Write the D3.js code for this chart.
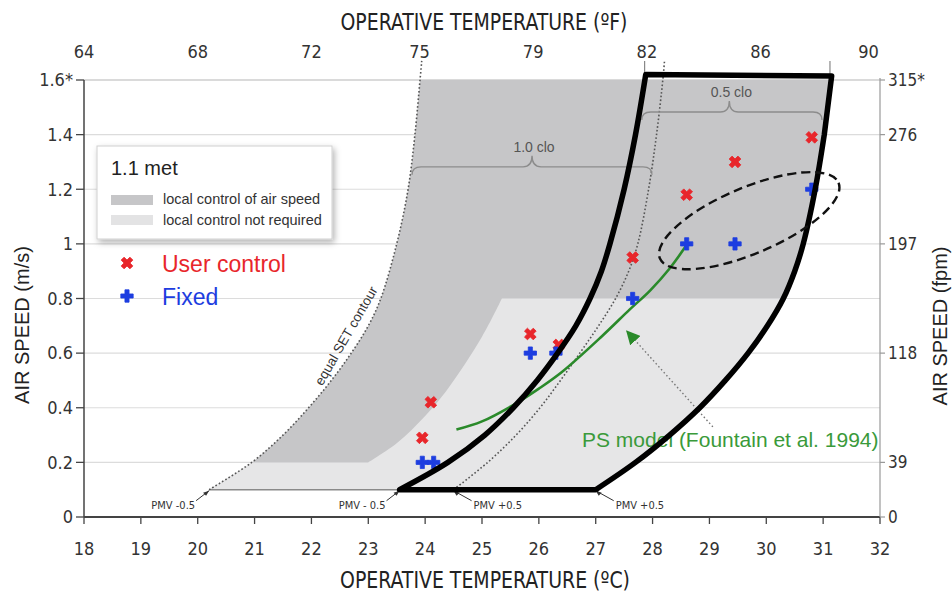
<!DOCTYPE html>
<html>
<head>
  <title>Elevated air speed comfort zone</title>
  <style>
    body { margin: 0; background: #fff; }
    svg { display: block; }
  </style>
</head>
<body>
<div id="chart"></div>
<script src="https://cdn.jsdelivr.net/npm/d3@7/dist/d3.min.js"></script>
<script>
// ---- data ----
var bottomTicks = [18, 19, 20, 21, 22, 23, 24, 25, 26, 27, 28, 29, 30, 31, 32];
var topTicksF = [64, 68, 72, 75, 79, 82, 86, 90];
var topTicksAtC = [18, 20, 22, 23.9, 25.9, 27.9, 29.9, 31.8];   // where the °F labels sit on the °C axis
var leftTicks = [0, 0.2, 0.4, 0.6, 0.8, 1, 1.2, 1.4, 1.6];
var leftLabels = ["0", "0.2", "0.4", "0.6", "0.8", "1", "1.2", "1.4", "1.6*"];
var rightLabels = ["0", "39", "118", "197", "276", "315*"];
var rightTicksAt = [0, 0.2, 0.6, 1.0, 1.4, 1.6];

// boundary curves [temperature °C, air speed m/s]
var setContour = [[20.2, 0.1], [20.95, 0.2], [21.5, 0.3], [21.95, 0.4], [22.35, 0.5], [22.7, 0.6],
                  [23.0, 0.7], [23.22, 0.8], [23.5, 1.0], [23.7, 1.2], [23.82, 1.4], [23.91, 1.6], [23.94, 1.67]];
var pmvPlus10clo = [[24.5, 0.1], [25.1, 0.2], [25.6, 0.3], [26.02, 0.4], [26.38, 0.5], [26.72, 0.6],
                    [27.05, 0.7], [27.35, 0.8], [27.58, 0.9], [27.74, 1.0], [27.93, 1.2], [28.07, 1.4],
                    [28.18, 1.6], [28.21, 1.67]];
var zone05Left = [[23.55, 0.1], [24.4, 0.2], [25.05, 0.3], [25.55, 0.4], [25.97, 0.5], [26.33, 0.6],
                  [26.65, 0.7], [26.9, 0.8], [27.1, 0.9], [27.25, 1.0], [27.5, 1.2], [27.7, 1.4], [27.88, 1.62]];
var zone05Right = [[27.0, 0.1], [27.7, 0.2], [28.3, 0.3], [28.83, 0.4], [29.28, 0.5], [29.68, 0.6],
                   [30.02, 0.7], [30.3, 0.8], [30.5, 0.9], [30.65, 1.0], [30.86, 1.2], [31.02, 1.4], [31.14, 1.6]];
var lightLeft = [[23.0, 0.2], [23.5, 0.27], [24.0, 0.37], [24.4, 0.47], [25.0, 0.66], [25.35, 0.8]];
var psModel = [[24.55, 0.32], [25.0, 0.35], [25.55, 0.41], [26.0, 0.47], [26.4, 0.53], [27.1, 0.66],
               [27.6, 0.76], [27.96, 0.83], [28.3, 0.91], [28.58, 0.99]];

// measurements
var userControl = [[23.95, 0.29], [24.1, 0.42], [25.85, 0.67], [26.35, 0.63], [27.65, 0.95],
                   [28.6, 1.18], [29.45, 1.30], [30.8, 1.39]];
var fixedSpeed = [[23.95, 0.20], [24.15, 0.20], [25.85, 0.60], [26.3, 0.60], [27.65, 0.80],
                  [28.6, 1.0], [29.45, 1.0], [30.8, 1.2]];

var pmvLabels = [["PMV -0.5", 20.2], ["PMV - 0.5", 23.55], ["PMV +0.5", 24.5], ["PMV +0.5", 27.0]];
var cloBraces = [["1.0 clo", 23.77, 27.99, 25.88, 1.282], ["0.5 clo", 27.81, 30.98, 29.35, 1.483]];

// ---- layout ----
var w = 952, h = 592;
var narrow = '"Liberation Sans Narrow", "DejaVu Sans Condensed", sans-serif';
var sans = '"Liberation Sans", Arial, sans-serif';

var x = d3.scaleLinear().domain([18, 32]).range([84, 880]);
var y = d3.scaleLinear().domain([0, 1.6]).range([517, 80]);

var svg = d3.select("#chart").append("svg")
  .attr("width", w).attr("height", h);

var defs = svg.append("defs");
var f = defs.append("filter").attr("id", "shadow")
  .attr("x", "-10%").attr("y", "-10%").attr("width", "130%").attr("height", "140%");
f.append("feDropShadow").attr("dx", 2).attr("dy", 3).attr("stdDeviation", 3)
  .attr("flood-color", "#000").attr("flood-opacity", 0.3);
defs.append("marker").attr("id", "greenhead")
  .attr("viewBox", "0 0 10 10").attr("refX", 9).attr("refY", 5)
  .attr("markerWidth", 14).attr("markerHeight", 14).attr("markerUnits", "userSpaceOnUse")
  .attr("orient", "auto")
  .append("path").attr("d", "M0,0L10,5L0,10Z").attr("fill", "#2a8a2a");

var smooth = d3.line().x(function (d) { return x(d[0]); }).y(function (d) { return y(d[1]); })
  .curve(d3.curveCatmullRom.alpha(0.5));
var straight = d3.line().x(function (d) { return x(d[0]); }).y(function (d) { return y(d[1]); });
function pt(t, v) { return "L" + x(t) + "," + y(v); }
function join() {
  var s = "";
  for (var i = 0; i < arguments.length; i++) {
    s += i === 0 ? arguments[i] : arguments[i].replace(/^M/, "L");
  }
  return s + "Z";
}

// grid
svg.append("g").selectAll("line")
  .data(leftTicks.slice(1))
  .enter().append("line")
  .attr("x1", x(18)).attr("x2", x(32))
  .attr("y1", function (d) { return y(d); }).attr("y2", function (d) { return y(d); })
  .attr("stroke", function (d) { return d === 1.6 ? "#b5b5b5" : "#dcdcdc"; })
  .attr("stroke-width", 1.2);

// dark zone: local control of air speed
var setUpTo16 = setContour.filter(function (d) { return d[1] <= 1.6; });
svg.append("path")
  .attr("d", join(smooth(setUpTo16), pt(31.14, 1.6), smooth(zone05Right.slice().reverse())))
  .attr("fill", "#c6c6c8");

// light zone: local control not required
var rightLow = zone05Right.filter(function (d) { return d[1] <= 0.8; }).reverse();
svg.append("path")
  .attr("d", join(straight([setContour[0], setContour[1]]), smooth(lightLeft), smooth(rightLow)))
  .attr("fill", "#e6e6e7");

// bottom edge at 0.1 m/s
svg.append("line")
  .attr("x1", x(20.2)).attr("x2", x(27.0)).attr("y1", y(0.1)).attr("y2", y(0.1))
  .attr("stroke", "#8a8a8a").attr("stroke-width", 1.6);

// dotted PMV lines
[setContour, pmvPlus10clo].forEach(function (c) {
  svg.append("path").attr("d", smooth(c))
    .attr("fill", "none").attr("stroke", "#555").attr("stroke-width", 1.6)
    .attr("stroke-dasharray", "1.6,2.2");
});
// short solid extensions of the 0.5 clo edges above the chart
[27.86, 31.12].forEach(function (t) {
  svg.append("line").attr("x1", x(t)).attr("x2", x(t)).attr("y1", y(1.6)).attr("y2", y(1.67))
    .attr("stroke", "#888").attr("stroke-width", 1.2);
});

// clo braces
cloBraces.forEach(function (b) {
  var x0 = x(b[1]), x1 = x(b[2]), xm = x(b[3]), yb = y(b[4]), r = 9, drop = 8, tip = 11;
  var d = "M" + x0 + "," + (yb + drop) + "Q" + x0 + "," + yb + " " + (x0 + r) + "," + yb +
    "L" + (xm - r) + "," + yb + "Q" + xm + "," + yb + " " + xm + "," + (yb - tip) +
    "Q" + xm + "," + yb + " " + (xm + r) + "," + yb +
    "L" + (x1 - r) + "," + yb + "Q" + x1 + "," + yb + " " + x1 + "," + (yb + drop);
  svg.append("path").attr("d", d).attr("fill", "none")
    .attr("stroke", "#8c8c8c").attr("stroke-width", 1.4);
  svg.append("text").attr("x", xm + 2).attr("y", yb - tip - 4)
    .attr("text-anchor", "middle").attr("font-family", sans).attr("font-size", "14px")
    .attr("fill", "#555").text(b[0]);
});

// equal SET contour label
svg.append("text")
  .attr("transform", "translate(" + x(22.72) + "," + y(0.65) + ") rotate(-60)")
  .attr("text-anchor", "middle").attr("dy", "-0.2em")
  .attr("font-family", sans).attr("font-size", "13.5px")
  .attr("fill", "#333").text("equal SET contour");

// PMV labels with arrows
pmvLabels.forEach(function (p, i) {
  var px = x(p[1]), py = y(0.1);
  var left = i < 2;
  var tx = left ? px - 14 : px + 20;
  svg.append("line")
    .attr("x1", left ? px - 13 : px + 18).attr("y1", py + 11)
    .attr("x2", px).attr("y2", py + 1)
    .attr("stroke", "#333").attr("stroke-width", 1);
  svg.append("path")
    .attr("d", left ? "M" + px + "," + (py + 1) + "l-6,2l3,3z" : "M" + px + "," + (py + 1) + "l6,2l-3,3z")
    .attr("fill", "#333");
  svg.append("text").attr("x", tx).attr("y", py + 19)
    .attr("text-anchor", left ? "end" : "start")
    .attr("font-family", narrow).attr("font-size", "11px").attr("fill", "#333").text(p[0]);
});

// PS model curve
svg.append("path").attr("d", smooth(psModel))
  .attr("fill", "none").attr("stroke", "#2a8a2a").attr("stroke-width", 2.6);

// PS model pointer
svg.append("line")
  .attr("x1", x(29.06)).attr("y1", y(0.33)).attr("x2", x(27.55)).attr("y2", y(0.68))
  .attr("stroke", "#777").attr("stroke-width", 1.4).attr("stroke-dasharray", "1.5,2.5")
  .attr("marker-end", "url(#greenhead)");
svg.append("text").attr("x", 582).attr("y", 447)
  .attr("font-family", sans).attr("font-size", "21px").attr("fill", "#3a9a3a")
  .text("PS model (Fountain et al. 1994)");

// markers
var xSym = d3.symbol().type(d3.symbolCross).size(85);
function plotPoints(data, color, rot) {
  svg.append("g").selectAll("path")
    .data(data).enter().append("path")
    .attr("d", xSym)
    .attr("transform", function (d) {
      return "translate(" + x(d[0]) + "," + y(d[1]) + ") rotate(" + rot + ")";
    })
    .attr("fill", color).attr("stroke", color).attr("stroke-width", 0.8).attr("stroke-linejoin", "round");
}
plotPoints(userControl, "#e8262b", 45);
plotPoints(fixedSpeed, "#1d3de0", 0);

// bold outline of the 0.5 clo zone
svg.append("path")
  .attr("d", join(smooth(zone05Left), pt(31.15, 1.615),
                  smooth(zone05Right.slice(0, -1).reverse())))
  .attr("fill", "none").attr("stroke", "#000").attr("stroke-width", 5.5)
  .attr("stroke-linejoin", "round");

// dashed ellipse
svg.append("ellipse")
  .attr("transform", "translate(" + x(29.7) + "," + y(1.085) + ") rotate(-23)")
  .attr("rx", 97).attr("ry", 33)
  .attr("fill", "none").attr("stroke", "#111").attr("stroke-width", 2.4)
  .attr("stroke-dasharray", "9,5");

// axes
svg.append("line").attr("x1", x(18)).attr("x2", x(32)).attr("y1", y(0)).attr("y2", y(0))
  .attr("stroke", "#444").attr("stroke-width", 2.2);
svg.append("line").attr("x1", x(18)).attr("x2", x(18)).attr("y1", y(0)).attr("y2", y(1.6))
  .attr("stroke", "#444").attr("stroke-width", 1.5);
svg.append("line").attr("x1", x(32)).attr("x2", x(32)).attr("y1", y(0)).attr("y2", y(1.6) - 2)
  .attr("stroke", "#999").attr("stroke-width", 1.2);

svg.append("g").selectAll("line").data(bottomTicks).enter().append("line")
  .attr("x1", function (d) { return x(d); }).attr("x2", function (d) { return x(d); })
  .attr("y1", y(0)).attr("y2", y(0) + 7).attr("stroke", "#444").attr("stroke-width", 1.3);
svg.append("g").selectAll("text").data(bottomTicks).enter().append("text")
  .attr("x", function (d) { return x(d); }).attr("y", 555)
  .attr("text-anchor", "middle").attr("font-family", narrow).attr("font-size", "18px")
  .attr("fill", "#333").text(function (d) { return d; });

svg.append("g").selectAll("line").data(leftTicks).enter().append("line")
  .attr("x1", x(18) - 8).attr("x2", x(18))
  .attr("y1", function (d) { return y(d); }).attr("y2", function (d) { return y(d); })
  .attr("stroke", "#444").attr("stroke-width", 1.3);
svg.append("g").selectAll("text").data(leftTicks).enter().append("text")
  .attr("x", 73).attr("y", function (d) { return y(d); }).attr("dy", "0.35em")
  .attr("text-anchor", "end").attr("font-family", narrow).attr("font-size", "18px")
  .attr("fill", "#333").text(function (d, i) { return leftLabels[i]; });

svg.append("g").selectAll("line").data(rightTicksAt).enter().append("line")
  .attr("x1", x(32)).attr("x2", x(32) + 5)
  .attr("y1", function (d) { return y(d); }).attr("y2", function (d) { return y(d); })
  .attr("stroke", "#999").attr("stroke-width", 1.2);
svg.append("g").selectAll("text").data(rightTicksAt).enter().append("text")
  .attr("x", 888).attr("y", function (d) { return y(d); }).attr("dy", "0.35em")
  .attr("font-family", narrow).attr("font-size", "17px")
  .attr("fill", "#333").text(function (d, i) { return rightLabels[i]; });

svg.append("g").selectAll("text").data(topTicksF).enter().append("text")
  .attr("x", function (d, i) { return x(topTicksAtC[i]); }).attr("y", 58)
  .attr("text-anchor", "middle").attr("font-family", narrow).attr("font-size", "18px")
  .attr("fill", "#333").text(function (d) { return d; });

// titles
svg.append("text").attr("x", 484).attr("y", 30).attr("text-anchor", "middle")
  .attr("font-family", narrow).attr("font-size", "23px").attr("fill", "#222")
  .attr("textLength", 287).attr("lengthAdjust", "spacingAndGlyphs")
  .text("OPERATIVE TEMPERATURE (ºF)");
svg.append("text").attr("x", 485).attr("y", 588).attr("text-anchor", "middle")
  .attr("font-family", narrow).attr("font-size", "23px").attr("fill", "#222")
  .attr("textLength", 290).attr("lengthAdjust", "spacingAndGlyphs")
  .text("OPERATIVE TEMPERATURE (ºC)");
svg.append("text").attr("transform", "translate(29,325) rotate(-90)").attr("text-anchor", "middle")
  .attr("font-family", sans).attr("font-size", "20px").attr("fill", "#222")
  .text("AIR SPEED (m/s)");
svg.append("text").attr("transform", "translate(947,326) rotate(-90)").attr("text-anchor", "middle")
  .attr("font-family", sans).attr("font-size", "20px").attr("fill", "#222")
  .text("AIR SPEED (fpm)");

// legend box
var lg = svg.append("g");
lg.append("rect").attr("x", 97).attr("y", 146).attr("width", 235).attr("height", 93)
  .attr("fill", "#fff").attr("stroke", "#d0d0d0").attr("stroke-width", 1)
  .attr("filter", "url(#shadow)");
lg.append("text").attr("x", 111).attr("y", 175).attr("font-family", sans).attr("font-size", "20px")
  .attr("fill", "#222").text("1.1 met");
lg.append("rect").attr("x", 111).attr("y", 195).attr("width", 42).attr("height", 10).attr("fill", "#c6c6c8");
lg.append("rect").attr("x", 111).attr("y", 215).attr("width", 42).attr("height", 10).attr("fill", "#e3e3e4");
lg.append("text").attr("x", 163).attr("y", 204).attr("font-family", sans).attr("font-size", "14.5px")
  .attr("fill", "#333").text("local control of air speed");
lg.append("text").attr("x", 163).attr("y", 225).attr("font-family", sans).attr("font-size", "14.5px")
  .attr("fill", "#333").text("local control not required");

svg.append("path").attr("d", xSym).attr("transform", "translate(127,263) rotate(45)")
  .attr("fill", "#e8262b").attr("stroke", "#e8262b").attr("stroke-width", 0.8);
svg.append("path").attr("d", xSym).attr("transform", "translate(127,296)")
  .attr("fill", "#1d3de0").attr("stroke", "#1d3de0").attr("stroke-width", 0.8);
svg.append("text").attr("x", 162).attr("y", 272).attr("font-family", sans).attr("font-size", "23px")
  .attr("fill", "#e8262b").text("User control");
svg.append("text").attr("x", 162).attr("y", 305).attr("font-family", sans).attr("font-size", "23px")
  .attr("fill", "#1d3de0").text("Fixed");
</script>
</body>
</html>
